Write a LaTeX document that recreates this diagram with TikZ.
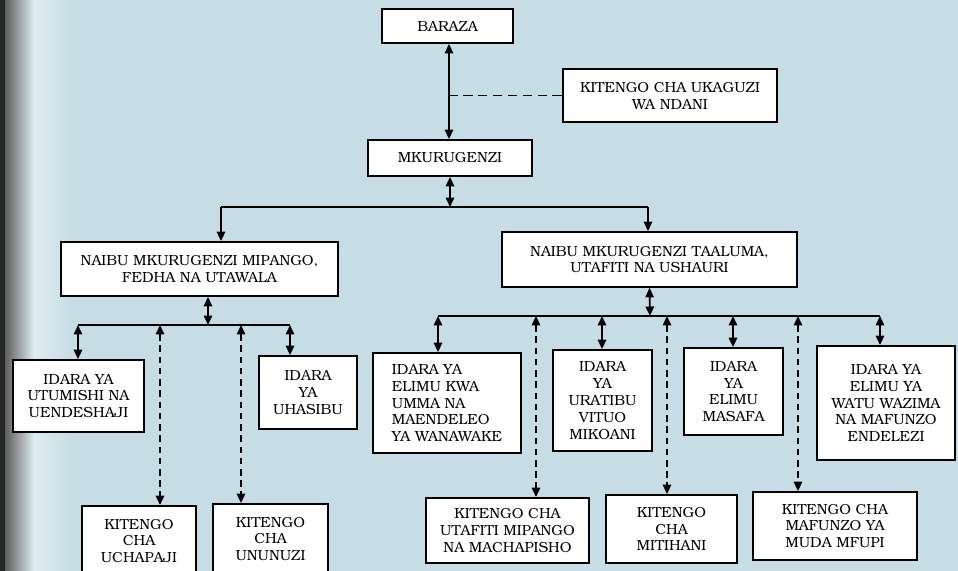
\documentclass[tikz,border=0pt]{standalone}
\usepackage[T1]{fontenc}
\usepackage{bookman}
\usetikzlibrary{arrows.meta}
\definecolor{fondo}{RGB}{198,221,229}

\begin{document}
\begin{tikzpicture}[x=0.02cm,y=-0.02cm,
  caja/.style={draw,line width=1pt,fill=white,inner sep=1pt,align=center,
    font=\fontsize{8.3}{9.6}\selectfont},
  doble/.style={line width=0.95pt,{Triangle[length=5.4pt,width=4.8pt]}-{Triangle[length=5.4pt,width=4.8pt]}},
  baja/.style={line width=0.95pt,-{Triangle[length=5.4pt,width=4.8pt]}},
  rayada/.style={doble,dash pattern=on 3.8pt off 2.6pt}]

  % Fondo
  \useasboundingbox (0,0) rectangle (958,571);
  \fill[fondo] (0,0) rectangle (958,571);
  \shade[left color=black!65,right color=fondo!55!white] (4,0) rectangle (34,571);
  \shade[left color=fondo!55!white,right color=fondo] (34,0) rectangle (72,571);
  \fill[black!85] (0,0) rectangle (5,571);

  % Nivel superior
  \node[caja,minimum width=2.62cm,minimum height=0.68cm] (baraza) at (447.5,26) {BARAZA};
  \node[caja,minimum width=4.28cm,minimum height=1.06cm] (ukaguzi) at (670,95.5)
    {KITENGO CHA UKAGUZI\\WA NDANI};
  \node[caja,minimum width=3.28cm,minimum height=0.72cm] (mkurugenzi) at (450,158) {MKURUGENZI};

  \draw[doble] (baraza.south -| 449,0) -- (mkurugenzi.north -| 449,0);
  \draw[line width=0.95pt,dash pattern=on 5.5pt off 3pt] (ukaguzi.west) -- (ukaguzi.west -| 449,0);

  % Manaibu
  \node[caja,minimum width=5.54cm,minimum height=1.08cm] (naibuA) at (199.5,269)
    {NAIBU MKURUGENZI MIPANGO,\\FEDHA NA UTAWALA};
  \node[caja,minimum width=5.9cm,minimum height=1.1cm] (naibuB) at (649.5,259.5)
    {NAIBU MKURUGENZI TAALUMA,\\UTAFITI NA USHAURI};

  \coordinate (juu) at (450,207);
  \draw[doble] (mkurugenzi.south) -- (juu);
  \draw[line width=0.95pt] (221,207) -- (648,207);
  \draw[baja] (221,207) -- (naibuA.north -| 221,0);
  \draw[baja] (648,207) -- (naibuB.north -| 648,0);

  % Idara za mipango
  \node[caja,minimum width=2.62cm,minimum height=1.44cm] (utumishi) at (78.5,396)
    {IDARA YA\\UTUMISHI NA\\UENDESHAJI};
  \node[caja,minimum width=1.96cm,minimum height=1.46cm] (uhasibu) at (308,392.5)
    {IDARA\\YA\\UHASIBU};
  \node[caja,minimum width=2.28cm,minimum height=1.4cm] (uchapaji) at (139,541)
    {KITENGO\\CHA\\UCHAPAJI};
  \node[caja,minimum width=2.3cm,minimum height=1.4cm] (ununuzi) at (270.5,539)
    {KITENGO\\CHA\\UNUNUZI};

  \coordinate (kushoto) at (208,325);
  \draw[doble] (naibuA.south -| kushoto) -- (kushoto);
  \draw[line width=0.95pt] (78,325) -- (290,325);
  \draw[doble] (78,325) -- (utumishi.north -| 78,0);
  \draw[doble] (290,325) -- (uhasibu.north -| 290,0);
  \draw[rayada] (160,325) -- (uchapaji.north -| 160,0);
  \draw[rayada] (241,325) -- (ununuzi.north -| 241,0);

  % Idara za taaluma
  \node[caja,minimum width=2.96cm,minimum height=2cm,align=left] (umma) at (447,403)
    {IDARA YA\\ELIMU KWA\\UMMA NA\\MAENDELEO\\YA WANAWAKE};
  \node[caja,minimum width=1.98cm,minimum height=2.02cm] (uratibu) at (602.5,400.5)
    {IDARA\\YA\\URATIBU\\VITUO\\MIKOANI};
  \node[caja,minimum width=1.98cm,minimum height=1.74cm] (masafa) at (733.5,391.5)
    {IDARA\\YA\\ELIMU\\MASAFA};
  \node[caja,minimum width=2.76cm,minimum height=2.28cm] (wazima) at (886,403)
    {IDARA YA\\ELIMU YA\\WATU WAZIMA\\NA MAFUNZO\\ENDELEZI};
  \node[caja,minimum width=3.26cm,minimum height=1.3cm] (utafiti) at (507.5,530.5)
    {KITENGO CHA\\UTAFITI MIPANGO\\NA MACHAPISHO};
  \node[caja,minimum width=2.62cm,minimum height=1.36cm] (mitihani) at (671.5,529)
    {KITENGO\\CHA\\MITIHANI};
  \node[caja,minimum width=3.28cm,minimum height=1.36cm] (mafunzo) at (835,526)
    {KITENGO CHA\\MAFUNZO YA\\MUDA MFUPI};

  \coordinate (kulia) at (650,316);
  \draw[doble] (naibuB.south) -- (kulia);
  \draw[line width=0.95pt] (438,316) -- (880,316);
  \draw[doble] (438,316) -- (umma.north -| 438,0);
  \draw[doble] (602,316) -- (uratibu.north -| 602,0);
  \draw[doble] (733,316) -- (masafa.north -| 733,0);
  \draw[doble] (880,316) -- (wazima.north -| 880,0);
  \draw[rayada] (536,316) -- (utafiti.north -| 536,0);
  \draw[rayada] (667,316) -- (mitihani.north -| 667,0);
  \draw[rayada] (798,316) -- (mafunzo.north -| 798,0);
\end{tikzpicture}
\end{document}
